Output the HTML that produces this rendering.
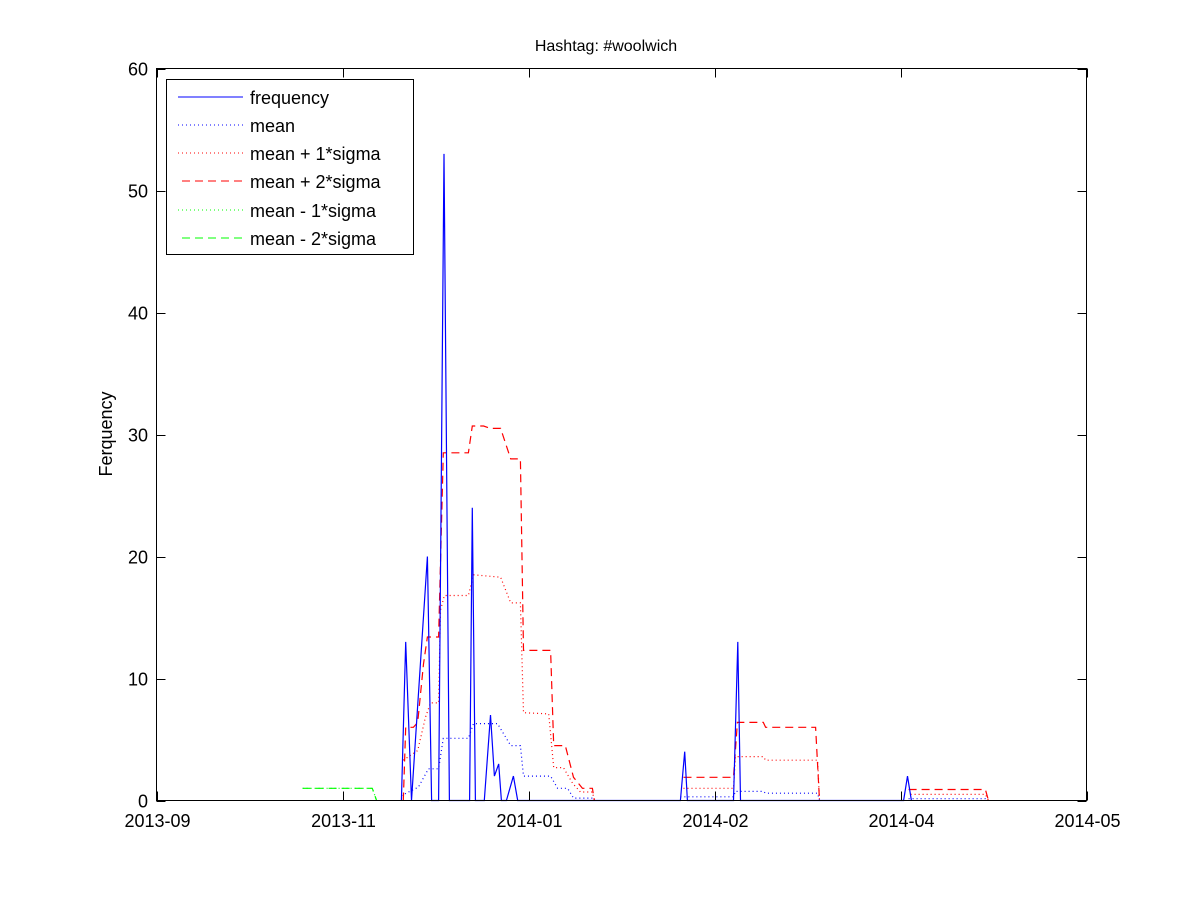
<!DOCTYPE html>
<html><head><meta charset="utf-8"><style>
body{margin:0;background:#fff;}
svg text{font-family:"Liberation Sans",Arial,sans-serif;fill:#000;}
</style></head><body>
<svg id="chart" width="1200" height="900" viewBox="0 0 1200 900" xmlns="http://www.w3.org/2000/svg">
<rect x="0" y="0" width="1200" height="900" fill="#fff"/>
<text x="606" y="51" font-size="16" text-anchor="middle">Hashtag: #woolwich</text>
<text transform="translate(112,434) rotate(-90)" font-size="18" text-anchor="middle">Ferquency</text>
<g id="plot"></g>
<rect x="156.5" y="68.5" width="930" height="732" fill="none" stroke="#000" stroke-width="1"/>
<g id="ticks"></g>
<g>
<rect x="166.5" y="79.5" width="247" height="175" fill="#fff" stroke="#000"/>
<g><line x1="178" y1="97" x2="243" y2="97" stroke="#00f"/><text x="250" y="104" font-size="18">frequency</text></g>
<g><line x1="178" y1="125" x2="243" y2="125" stroke="#00f" stroke-dasharray="1,3"/><text x="250" y="132" font-size="18">mean</text></g>
<g><line x1="178" y1="153" x2="243" y2="153" stroke="#f00" stroke-dasharray="1,3"/><text x="250" y="160" font-size="18">mean + 1*sigma</text></g>
<g><line x1="182" y1="181" x2="243" y2="181" stroke="#f00" stroke-dasharray="8,5"/><text x="250" y="188" font-size="18">mean + 2*sigma</text></g>
<g><line x1="178" y1="210" x2="243" y2="210" stroke="#0f0" stroke-dasharray="1,3"/><text x="250" y="217" font-size="18">mean - 1*sigma</text></g>
<g><line x1="182" y1="238" x2="243" y2="238" stroke="#0f0" stroke-dasharray="8,5"/><text x="250" y="245" font-size="18">mean - 2*sigma</text></g>
</g>
</svg>
<script>
const xTickLabels=["2013-09","2013-11","2014-01","2014-02","2014-04","2014-05"];
const xTickDays=[0,48,96,144,192,240];
const yTicks=[0,10,20,30,40,50,60];
// x values are days since 2013-09-01 (axis spans 0..240); null breaks a line
const freqDays=[63.2,64.3,65.8,69.9,71.0,72.8,74.2,75.6,80.8,81.5,82.3,84.6,86.2,87.2,88.3,89.0,90.3,92.1,93.2,135.2,136.3,137.0,148.9,150.0,150.7,192.8,193.8,194.8];
const freqValues=[0,13,0,20,0,0,53,0,0,24,0,0,7,2,3,0,0,2,0,0,4,0,0,13,0,0,2,0];
const meanDays=[63.2,67.6,70.2,72.8,74.0,80.5,81.8,88.0,91.4,93.9,94.7,101.7,103.5,106.1,107.6,112.5,113.0,null,135.2,148.9,149.4,156.6,157.2,170.6,171.1,null,194.1,213.9,214.7];
const meanValues=[0.4,1.1,2.6,2.6,5.1,5.1,6.3,6.3,4.5,4.5,2.0,2.0,1.0,1.0,0.2,0.2,0,null,0.3,0.3,0.75,0.75,0.6,0.6,0,null,0.15,0.15,0];
const plus1Days=[63.7,67.4,69.4,70.7,72.8,73.3,74.3,80.5,81.8,88.8,91.4,93.9,94.7,101.2,102.5,105.0,107.4,109.4,112.5,113.0,null,136.0,148.9,149.4,156.6,157.2,170.6,171.1,null,194.6,213.9,214.7];
const plus1Values=[3.3,4.1,6.8,8.0,8.0,15.6,16.8,16.8,18.5,18.3,16.2,16.2,7.2,7.1,2.7,2.7,1.4,0.7,0.7,0,null,1.0,1.0,3.6,3.6,3.3,3.3,0,null,0.5,0.5,0];
const plus2Days=[63.7,64.3,66.3,67.4,68.9,69.9,72.8,74.0,80.5,81.5,84.4,86.2,88.8,91.4,93.9,94.7,101.7,102.5,105.5,107.6,109.9,112.5,113.0,null,136.0,148.9,149.9,156.6,157.2,170.1,171.1,null,194.1,213.9,214.7];
const plus2Values=[0,6.0,6.0,6.4,11.2,13.4,13.4,28.5,28.5,30.7,30.7,30.5,30.5,28.0,28.0,12.3,12.3,4.5,4.5,1.9,1.0,1.0,0,null,1.9,1.9,6.4,6.4,6.0,6.0,0,null,0.9,0.9,0];
const minus1Days=[37.7,55.7,56.8];
const minus1Values=[1.0,1.0,0];
const minus2Days=[37.7,55.7,56.8];
const minus2Values=[1.0,1.0,0];

const X0=156.5,X1=1086.5,Y0=800.5,Y1=68.5;
const xs=d=>X0+(d-0)/(240-0)*(X1-X0);
const ys=v=>Y0-(v-0)/(60-0)*(Y0-Y1);
const NS="http://www.w3.org/2000/svg";
const plot=document.getElementById('plot');
function pathD(days,vals){let d="",pen=false;for(let i=0;i<days.length;i++){if(days[i]===null||vals[i]===null){pen=false;continue;}d+=(pen?"L":"M")+xs(days[i]).toFixed(1)+","+ys(vals[i]).toFixed(1);pen=true;}return d;}
function series(days,vals,color,dash,name){const p=document.createElementNS(NS,'path');p.setAttribute('d',pathD(days,vals));p.setAttribute('fill','none');p.setAttribute('stroke',color);p.setAttribute('stroke-width','1.2');if(dash)p.setAttribute('stroke-dasharray',dash);


plot.appendChild(p);}
series(minus1Days,minus1Values,'#0f0','1,3','series-mean-minus-1sigma');
series(minus2Days,minus2Values,'#0f0','8,5','series-mean-minus-2sigma');
series(meanDays,meanValues,'#00f','1,3','series-mean');
series(plus1Days,plus1Values,'#f00','1,3','series-mean-plus-1sigma');
series(plus2Days,plus2Values,'#f00','8,5','series-mean-plus-2sigma');
series(freqDays,freqValues,'#00f',null,'series-frequency');
const tg=document.getElementById('ticks');
function ln(x1,y1,x2,y2){const l=document.createElementNS(NS,'line');l.setAttribute('x1',x1);l.setAttribute('y1',y1);l.setAttribute('x2',x2);l.setAttribute('y2',y2);l.setAttribute('stroke','#000');


tg.appendChild(l);}
function tx(x,y,s,anchor,name){const t=document.createElementNS(NS,'text');t.setAttribute('x',x);t.setAttribute('y',y);t.setAttribute('font-size','18');t.setAttribute('text-anchor',anchor);t.textContent=s;


tg.appendChild(t);}
xTickDays.forEach((d,i)=>{const x=Math.round(xs(d))+0.5;ln(x,Y0,x,Y0-9);ln(x,Y1,x,Y1+9);tx(x,827,xTickLabels[i],'middle','x-tick-label');});
yTicks.forEach(v=>{const y=Math.round(ys(v))+0.5;ln(X0,y,X0+9,y);ln(X1,y,X1-9,y);tx(148,y+6,String(v),'end','y-tick-label');});
</script>
</body></html>
